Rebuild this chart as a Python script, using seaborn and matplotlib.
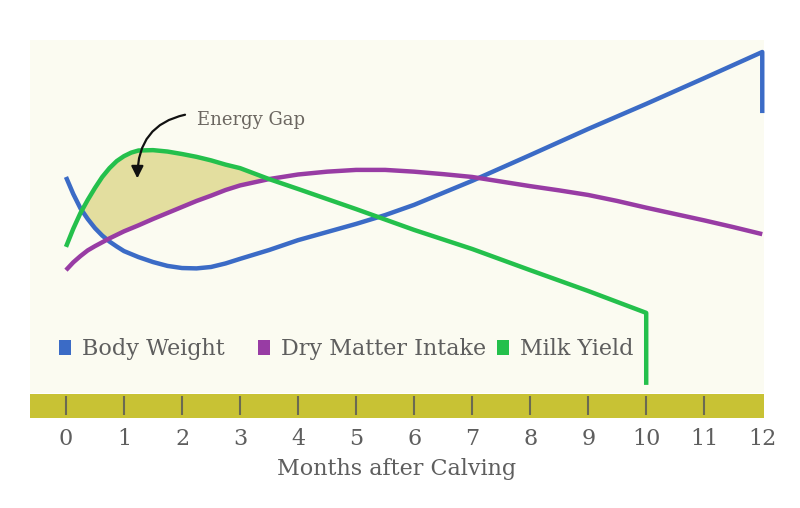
import matplotlib
matplotlib.use("Agg")
import matplotlib.pyplot as plt
from matplotlib.patches import Patch
import seaborn as sns
import pandas as pd
import numpy as np

sns.set_theme(style="white")
plt.rcParams['font.family'] = ['DejaVu Serif']

# ---- data (arbitrary index units) ----
months_bw = [0, 0.125, 0.25, 0.375, 0.5, 0.625, 0.75, 0.875, 1.0, 1.25, 1.5, 1.75, 2.0, 2.25, 2.5, 2.75,
             3.0, 3.5, 4, 4.5, 5, 5.5, 6, 6.5, 7, 8, 9, 10, 11, 12, 12]
body_weight = [61.2, 56.4, 52.3, 49.3, 46.7, 44.6, 42.9, 41.5, 40.2, 38.5, 37.1, 36.0, 35.4, 35.3, 35.7, 36.7,
               38.0, 40.5, 43.3, 45.6, 47.9, 50.4, 53.3, 56.7, 60.1, 67.4, 74.8, 81.9, 89.2, 96.6, 79.3]

months_dmi = [0, 0.125, 0.25, 0.375, 0.5, 0.75, 1.0, 1.25, 1.5, 1.75, 2.0, 2.25, 2.5, 2.75, 3.0, 3.5, 4,
              4.5, 5, 5.5, 6, 6.5, 7, 7.5, 8, 8.5, 9, 9.5, 10, 10.5, 11, 11.5, 12]
dry_matter = [34.8, 37.0, 38.8, 40.4, 41.6, 43.8, 45.8, 47.5, 49.3, 51.0, 52.7, 54.4, 55.9, 57.5, 58.8, 60.6,
              61.9, 62.7, 63.2, 63.2, 62.7, 62.0, 61.2, 59.9, 58.6, 57.4, 56.1, 54.4, 52.5, 50.7, 48.9,
              47.0, 45.0]

months_milk = [0, 0.125, 0.25, 0.375, 0.5, 0.625, 0.75, 0.875, 1.0, 1.125, 1.25, 1.5, 1.75, 2.0, 2.25, 2.5,
               2.75, 3.0, 3.5, 4, 5, 6, 7, 8, 9, 10, 10]
milk_yield = [41.4, 46.5, 51.0, 54.7, 58.1, 61.2, 63.7, 65.7, 67.1, 68.1, 68.7, 68.8, 68.4, 67.7, 66.9, 65.9,
              64.7, 63.7, 60.6, 57.8, 52.1, 46.2, 40.8, 34.8, 28.9, 22.7, 2.3]

series_names = ["Body Weight", "Dry Matter Intake", "Milk Yield"]
tick_labels = [str(i) for i in range(13)]

colors = {"Body Weight": "#3b6bc6", "Dry Matter Intake": "#983ca4", "Milk Yield": "#24c04c"}
panel_bg = "#fbfbf1"
olive = "#c8c234"
gap_fill = "#e3de9f"
text_col = "#5e5e5e"
fs = 16

W, H = 800, 508
fig = plt.figure(figsize=(W / 100, H / 100), dpi=100)
fig.patch.set_facecolor("white")

ax = fig.add_axes([30 / W, (H - 393) / H, 734 / W, 353 / H])
ax.set_facecolor(panel_bg)
xlim = (-0.62, 12.03)

# energy gap fill: milk yield above both intake and body-weight curves
n_gap = 19
mx = np.array(months_milk[:n_gap])
my = np.array(milk_yield[:n_gap])
lower = np.maximum(np.interp(mx, months_dmi, dry_matter), np.interp(mx, months_bw[:-1], body_weight[:-1]))
ax.fill_between(mx, my, lower, where=my >= lower, interpolate=True, color=gap_fill, lw=0, zorder=1)

df_bw = pd.DataFrame({"month": months_bw, "value": body_weight})
df_dmi = pd.DataFrame({"month": months_dmi, "value": dry_matter})
df_milk = pd.DataFrame({"month": months_milk, "value": milk_yield})
for name, d in zip(series_names, [df_bw, df_dmi, df_milk]):
    sns.lineplot(data=d, x="month", y="value", ax=ax, estimator=None, sort=False,
                 color=colors[name], lw=3.2, zorder=3, clip_on=False,
                 solid_joinstyle="round", solid_capstyle="butt")

ax.set_xlim(*xlim)
ax.set_ylim(0, 100)
ax.set_xticks([])
ax.set_yticks([])
ax.set_xlabel("")
ax.set_ylabel("")
for s in ax.spines.values():
    s.set_visible(False)

# annotation
ax.annotate("Energy Gap", xy=(1.23, 60.8), xytext=(2.25, 77.3),
            fontsize=13, color="#6b6660", va="center", ha="left",
            arrowprops=dict(arrowstyle="-|>", color="#111111", lw=1.6,
                            connectionstyle="arc3,rad=0.45", shrinkA=6, shrinkB=0,
                            relpos=(0.0, 0.9), mutation_scale=18))

# legend: three single-entry legends
legend_x = [59, 258, 497]
for i, name in enumerate(series_names):
    h = [Patch(facecolor=colors[name], edgecolor="none", label=name)]
    leg = ax.legend(handles=h, loc="center left", bbox_to_anchor=(legend_x[i] / W, (H - 349) / H),
                    bbox_transform=fig.transFigure, frameon=False, fontsize=fs,
                    handlelength=0.54, handleheight=0.68, handletextpad=0.5,
                    borderpad=0, borderaxespad=0, labelcolor=text_col)
    if i < 2:
        ax.add_artist(leg)

# olive axis bar
bx = fig.add_axes([30 / W, (H - 418) / H, 734 / W, 24 / H])
bx.set_facecolor(olive)
bx.set_xlim(*xlim)
bx.set_ylim(0, 1)
bx.vlines(range(12), 0.13, 0.92, color="#6a6a52", lw=1.5)
bx.set_yticks([])
bx.set_xticks(range(13))
bx.set_xticklabels(tick_labels, fontsize=fs, color=text_col)
bx.tick_params(axis="x", length=0, pad=7)
for s in bx.spines.values():
    s.set_visible(False)
bx.set_xlabel("Months after Calving", fontsize=fs, color=text_col, labelpad=6)

fig.savefig("out.png", dpi=100, facecolor="white")
